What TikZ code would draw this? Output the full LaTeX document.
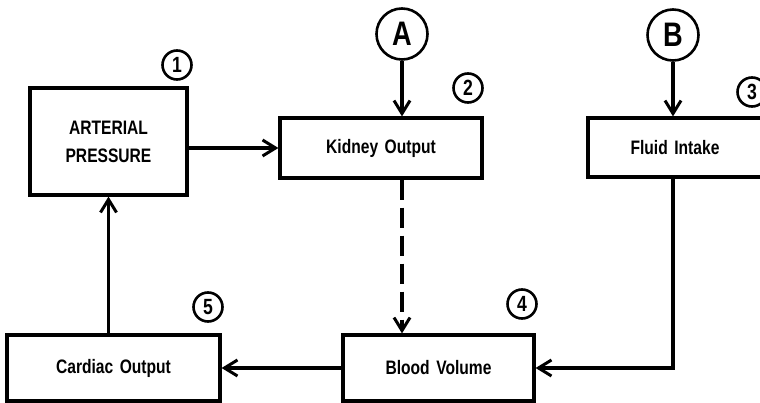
\documentclass[tikz,border=0pt]{standalone}
\usepackage{fontspec}
\setmainfont{Liberation Sans}[FakeStretch=0.8,WordSpace=1.5]
\usepackage{tikz}
\usetikzlibrary{arrows.meta,positioning}

\begin{document}
\begin{tikzpicture}[
  x=1pt, y=-1pt,
  box/.style={draw, line width=3.2pt, align=center, inner sep=0pt,
    font=\fontsize{19.5}{28}\selectfont\bfseries},
  letterNode/.style={draw, circle, line width=2.6pt, inner sep=0pt,
    minimum size=51pt, font=\fontsize{34}{34}\selectfont\bfseries},
  stepNum/.style={draw, circle, line width=2.6pt, inner sep=0pt,
    minimum size=29pt, font=\fontsize{22}{22}\selectfont\bfseries},
  flow/.style={-{Straight Barb[length=13pt, width=16pt, line width=3pt]}, line width=3.2pt},
  dashflow/.style={flow, dash pattern=on 20pt off 8pt}
]
  \useasboundingbox (0,0) rectangle (760,403);
  \clip (0,0) rectangle (760,403);

  \node[box, minimum width=157pt, minimum height=107pt] (arterial) at (108.5,141.5) {ARTERIAL\\PRESSURE};
  \node[box, minimum width=202pt, minimum height=60pt] (kidney) at (381,148) {Kidney Output};
  \node[box, minimum width=174pt, minimum height=59pt] (fluid) at (675,147.5) {Fluid Intake};
  \node[box, minimum width=191pt, minimum height=66pt] (blood) at (438.5,368) {Blood Volume};
  \node[box, minimum width=213pt, minimum height=66pt] (cardiac) at (113.5,368) {Cardiac Output};

  \node[letterNode] (A) at (402,34) {A};
  \node[letterNode] (B) at (673,35) {B};

  % step numbers
  \node[stepNum] (n1) at (177,65) {1};
  \node[stepNum] (n2) at (468,88) {2};
  \node[stepNum] (n3) at (752,92) {3};
  \node[stepNum] (n4) at (522,304) {4};
  \node[stepNum] (n5) at (208,307) {5};

  \draw[flow] (arterial.east |- kidney.west) -- (kidney.west);
  \draw[flow] (A.south) -- (A.south |- kidney.north);
  \draw[flow] (B.south) -- (B.south |- fluid.north);
  \draw[dashflow] (A.south |- kidney.south) -- (A.south |- blood.north);
  \draw[flow] (B.south |- fluid.south) |- (blood.east);
  \draw[flow] (blood.west) -- (cardiac.east);
  \draw[flow] (arterial.south |- cardiac.north) -- (arterial.south);
\end{tikzpicture}
\end{document}
